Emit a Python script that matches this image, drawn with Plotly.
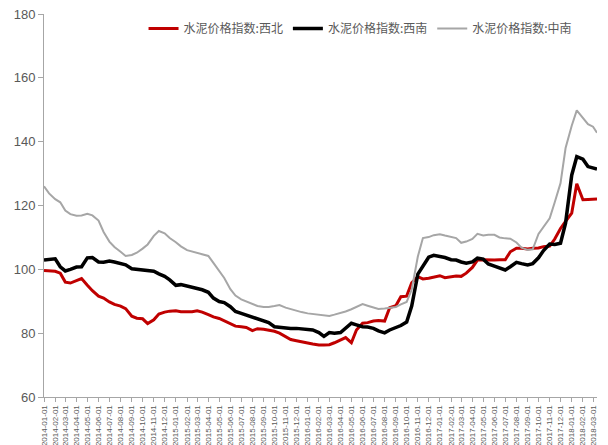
import pandas as pd
import plotly.graph_objects as go

dates = [d.strftime("%Y-%m-%d") for d in pd.date_range("2014-01-01", "2018-03-01", freq="SMS")] + ["2018-03-12"]

northwest = [99.6, 99.5, 99.4, 98.8, 96.0, 95.7, 96.5, 97.1, 95.0, 93.3,
             91.6, 91.0, 89.8, 89.0, 88.5, 87.7, 85.3, 84.7, 84.5, 83.0,
             84.2, 86.0, 86.6, 86.9, 87.0, 86.7, 86.7, 86.7, 87.0, 86.6,
             85.8, 85.1, 84.6, 83.8, 82.8, 82.2, 82.0, 81.8, 80.8, 81.4,
             81.2, 80.9, 80.6, 80.0, 78.8, 78.0, 77.6, 77.2, 76.9, 76.6,
             76.3, 76.3, 76.4, 77.0, 77.8, 78.6, 77.0, 81.0, 83.1, 83.3,
             83.8, 84.0, 83.8, 88.0, 88.6, 91.4, 91.6, 95.8, 97.7, 97.0,
             97.2, 97.6, 98.0, 97.4, 97.7, 97.9, 97.8, 98.8, 100.6, 102.9,
             103.0, 102.9, 102.9, 103.0, 103.0, 105.5, 106.6, 106.6, 106.4, 106.6,
             106.7, 107.1, 107.3, 109.5, 112.8, 115.0, 117.6, 126.8, 121.8, 121.9,
             122.0, 122.0]

southwest = [102.9, 103.2, 103.3, 100.8, 99.5, 100.0, 100.7, 100.8, 103.6, 103.7,
             102.3, 102.2, 102.6, 102.3, 101.8, 101.4, 100.2, 100.0, 99.8, 99.7,
             99.4, 98.6, 97.8, 96.7, 95.0, 95.2, 94.8, 94.3, 94.1, 93.6,
             92.8, 91.0, 89.9, 89.6, 88.3, 86.8, 86.2, 85.7, 85.1, 84.5,
             84.0, 83.3, 82.0, 81.8, 81.7, 81.5, 81.5, 81.3, 81.0, 81.0,
             80.2, 79.0, 80.2, 80.0, 80.2, 81.5, 83.1, 82.6, 82.0, 81.9,
             81.5, 80.7, 80.1, 81.0, 81.8, 82.4, 83.5, 88.5, 98.5, 101.0,
             103.8, 104.4, 104.0, 103.7, 103.0, 102.9, 102.3, 101.9, 102.3, 103.5,
             103.2, 101.7, 101.0, 100.4, 99.8, 100.8, 102.2, 101.8, 101.4, 101.8,
             103.6, 105.9, 107.9, 107.8, 108.2, 114.5, 129.5, 135.3, 134.5, 132.2,
             131.6, 131.4]

central_south = [126.0, 123.8, 122.0, 121.0, 118.4, 117.3, 116.8, 116.9, 117.4, 116.9,
                 115.3, 111.7, 108.7, 107.0, 105.5, 104.2, 104.5, 105.2, 106.5, 107.8,
                 110.5, 112.0, 111.3, 109.8, 108.5, 107.2, 106.0, 105.6, 105.3, 104.8,
                 104.2, 102.0, 99.6, 97.3, 93.8, 91.8, 90.6, 89.9, 89.0, 88.5,
                 88.2, 88.2, 88.5, 88.8, 88.0, 87.5, 87.0, 86.6, 86.2, 86.0,
                 85.7, 85.6, 85.4, 85.8, 86.3, 86.8, 87.5, 88.3, 89.1, 88.6,
                 88.0, 87.6, 87.7, 88.0, 88.2, 89.0, 89.8, 93.6, 104.0, 109.8,
                 110.1, 110.7, 111.0, 110.6, 110.2, 109.8, 108.3, 108.7, 109.5, 111.1,
                 110.6, 110.8, 110.8, 110.0, 109.7, 109.6, 108.4, 106.8, 106.1, 106.3,
                 111.1, 113.5, 116.0, 121.0, 127.0, 138.0, 145.0, 149.8, 147.5, 145.5,
                 144.7, 142.8]

names = ["水泥价格指数:西北", "水泥价格指数:西南", "水泥价格指数:中南"]
colors = ["#C00000", "#000000", "#A6A6A6"]
widths = [3, 3.5, 2]
series = [northwest, southwest, central_south]

tick_dates = [d.strftime("%Y-%m-%d") for d in pd.date_range("2014-01-01", "2018-03-01", freq="MS")]

fig = go.Figure()
for n, c, w, s in zip(names, colors, widths, series):
    fig.add_trace(go.Scatter(x=dates, y=s, mode="lines", name=n,
                             line=dict(color=c, width=w)))

fig.update_layout(
    width=608, height=445,
    margin=dict(l=44, r=11, t=14, b=48),
    paper_bgcolor="white", plot_bgcolor="white",
    font=dict(family="Liberation Sans Narrow, Liberation Sans, Arial", color="#595959"),
    showlegend=True,
    legend=dict(orientation="h", x=0.18, y=1.0, xanchor="left", yanchor="top",
                font=dict(family="Noto Sans CJK SC", size=12, color="#595959"),
                bgcolor="rgba(0,0,0,0)", itemwidth=30, tracegroupgap=0),
)
fig.update_xaxes(
    type="date", range=["2014-01-01", "2018-03-12"],
    tickmode="array", tickvals=tick_dates, ticktext=tick_dates,
    tickangle=-90, tickfont=dict(size=8, color="#595959"),
    showgrid=False, zeroline=False,
    showline=True, linecolor="#A6A6A6", linewidth=1,
    ticks="outside", ticklen=4, tickcolor="#A6A6A6", automargin=False,
)
fig.update_yaxes(
    range=[60, 180], tickmode="array", tickvals=[60, 80, 100, 120, 140, 160, 180],
    tickfont=dict(size=13, color="#595959"),
    showgrid=False, zeroline=False,
    showline=True, linecolor="#A6A6A6", linewidth=1,
    ticks="outside", ticklen=5, tickcolor="#A6A6A6", automargin=False,
)

fig.write_html("out.html")
